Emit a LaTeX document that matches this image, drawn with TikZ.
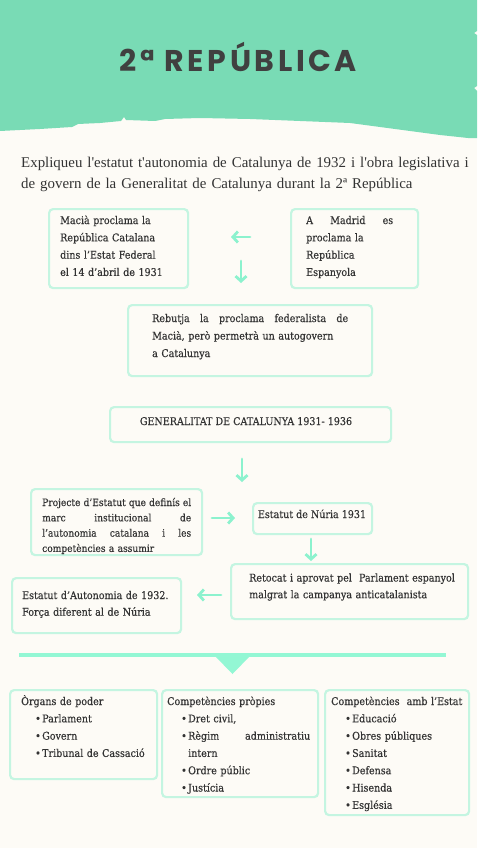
\documentclass[tikz,border=0pt]{standalone}
\usepackage{fontspec}
\setmainfont{DejaVu Serif}[FakeStretch=0.9, FakeBold=0.4]
\newfontfamily\qfont{Liberation Serif}
\newfontfamily\titlefont[LetterSpace=12]{Poppins}
\usetikzlibrary{arrows.meta}
\definecolor{bgc}{HTML}{FDFBF6}
\definecolor{headc}{HTML}{79DBB5}
\definecolor{boxc}{HTML}{C4F5E1}
\definecolor{arrc}{HTML}{8CF2CE}
\definecolor{barc}{HTML}{93F7D4}
\definecolor{textc}{HTML}{333333}
\definecolor{titlec}{HTML}{404040}
\newcommand{\bul}{\hspace*{14pt}\makebox[7pt][l]{•}}
\begin{document}
\begin{tikzpicture}[x=1pt,y=-1pt,
  boxnode/.style={draw=boxc, line width=2.2pt, rounded corners=4pt, inner sep=0pt, anchor=north west},
  txt/.style={anchor=base west, inner sep=0pt, align=left, text=textc},
  bt/.style={font=\fontsize{10.6}{17.3}\selectfont},
  arr/.style={draw=arrc, line width=2.8pt, line cap=round, -{Straight Barb[length=5pt,width=11pt]}}
]
\useasboundingbox (0,0) rectangle (477,848);
\fill[bgc] (0,0) rectangle (477,848);
% header
\fill[headc] (0,0) -- (477,0) -- (477,31) -- (474,33) -- (477,35) -- (477,86) -- (474,88) -- (477,91)
  -- (477,138) -- (468,138) -- (440,135) -- (410,131) -- (380,127) -- (350,123) -- (300,121)
  -- (250,119) -- (200,118) -- (165,119) -- (155,121) -- (126,120) -- (124,117) -- (121,121)
  -- (100,123) -- (78,124) -- (72,127) -- (40,129) -- (0,131) -- cycle;
\node[anchor=base, inner sep=0pt, text=titlec, font=\titlefont\bfseries\fontsize{30}{30}\selectfont] (title) at (238.5,72) {2ª REPÚBLICA};
% question
\node[txt, text width=460pt, font=\qfont\fontsize{14.9}{21}\selectfont] (q) at (21,167)
  {Expliqueu l'estatut t'autonomia de Catalunya de 1932 i l'obra legislativa i\\de govern de la Generalitat de Catalunya durant la 2ª República};

% boxes
\node[boxnode, minimum width=139pt, minimum height=79pt] (macia) at (48,208) {};
\node[txt, bt, text width=120pt] (maciat) at (60,224)
  {Macià proclama la\\República Catalana\\dins l’Estat Federal\\el 14 d’abril de 1931};
\node[boxnode, minimum width=127pt, minimum height=79pt] (madrid) at (290,208) {};
\node[txt, bt, text width=87pt] (madridt) at (306,224)
  {\makebox[87pt]{A\hfill Madrid\hfill es}\\proclama la\\República\\Espanyola};
\node[boxnode, minimum width=244pt, minimum height=71pt] (rebutja) at (127,304) {};
\node[txt, bt, text width=196pt, font=\fontsize{10.6}{17.5}\selectfont] (rebutjat) at (152,322)
  {\makebox[196pt]{Rebutja\hfill la\hfill proclama\hfill federalista\hfill de}\\Macià, però permetrà un autogovern\\a Catalunya};
\node[boxnode, minimum width=281pt, minimum height=35pt] (gen) at (109,406) {};
\node[anchor=base, inner sep=0pt, text=textc, bt] (gent) at (246,425) {GENERALITAT DE CATALUNYA 1931- 1936};
\node[boxnode, minimum width=171pt, minimum height=66pt] (proj) at (30,488) {};
\node[txt, text width=149pt, font=\fontsize{10.1}{15.3}\selectfont] (projt) at (42,506)
  {\makebox[149pt]{Projecte\hfill d’Estatut\hfill que\hfill definís\hfill el}\\\makebox[149pt]{marc\hfill institucional\hfill de}\\\makebox[149pt]{l'autonomia\hfill catalana\hfill i\hfill les}\\competències a assumir};
\node[boxnode, minimum width=119pt, minimum height=31pt] (nuria) at (252,502) {};
\node[anchor=base, inner sep=0pt, text=textc, bt] (nuriat) at (312,518) {Estatut de Núria 1931};
\node[boxnode, minimum width=237pt, minimum height=55pt] (retoc) at (230,563) {};
\node[txt, bt, text width=230pt, font=\fontsize{10.6}{16.7}\selectfont] (retoct) at (249,581.5)
  {Retocat i aprovat pel \ Parlament espanyol\\malgrat la campanya anticatalanista};
\node[boxnode, minimum width=169pt, minimum height=55pt] (eda) at (11,577) {};
\node[txt, bt, text width=160pt, font=\fontsize{10.6}{16.7}\selectfont] (edat) at (22,599)
  {Estatut d’Autonomia de 1932.\\Força diferent al de Núria};

% arrows
\coordinate (a1s) at (250,237); \coordinate (a1e) at (231,237);
\coordinate (a2s) at (241,261); \coordinate (a2e) at (241,283);
\coordinate (a3s) at (242,459); \coordinate (a3e) at (242,482);
\coordinate (a4s) at (212,518); \coordinate (a4e) at (235,518);
\coordinate (a5s) at (311,539); \coordinate (a5e) at (311,561);
\coordinate (a6s) at (221,595); \coordinate (a6e) at (197,595);
\draw[arr] (a1s) -- (a1e);
\draw[arr] (a2s) -- (a2e);
\draw[arr] (a3s) -- (a3e);
\draw[arr] (a4s) -- (a4e);
\draw[arr] (a5s) -- (a5e);
\draw[arr] (a6s) -- (a6e);

% bar with triangle
\fill[barc] (19,653) rectangle (446,657);
\fill[barc] (215,656) -- (250,656) -- (232.5,674) -- cycle;

% bottom boxes
\node[boxnode, minimum width=147pt, minimum height=89pt] (organs) at (9,689) {};
\node[txt, bt, text width=140pt] (organst) at (21,705)
  {Òrgans de poder\\\bul Parlament\\\bul Govern\\\bul Tribunal de Cassació};
\node[boxnode, minimum width=156pt, minimum height=107pt] (propies) at (161,689) {};
\node[txt, bt, text width=150pt] (propiest) at (167,705)
  {Competències pròpies\\\bul Dret civil,\\\bul\makebox[122pt]{Règim\hfill administratiu}\\\hspace*{21pt}intern\\\bul Ordre públic\\\bul Justícia};
\node[boxnode, minimum width=144pt, minimum height=125pt] (estat) at (324,689) {};
\node[txt, bt, text width=140pt] (estatt) at (331,705)
  {Competències \ amb l'Estat\\\bul Educació\\\bul Obres públiques\\\bul Sanitat\\\bul Defensa\\\bul Hisenda\\\bul Església};
\end{tikzpicture}
\end{document}
